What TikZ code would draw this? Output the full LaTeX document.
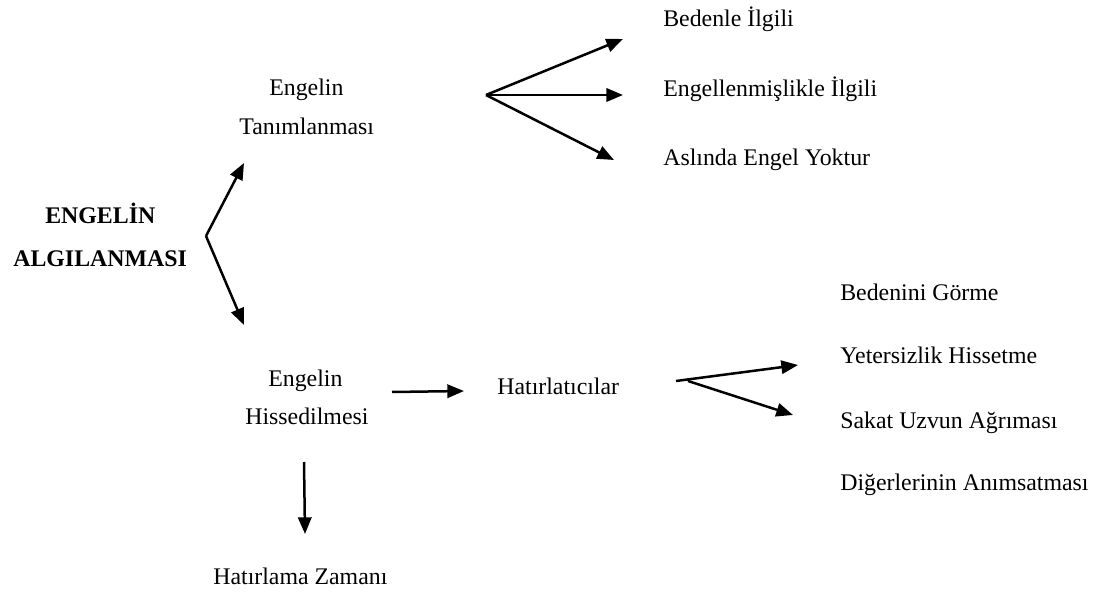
\documentclass[tikz,border=0pt]{standalone}
\usepackage{fontspec}
\setmainfont{Liberation Serif}
\usetikzlibrary{arrows.meta}
\begin{document}
\begin{tikzpicture}[x=0.6pt,y=-0.6pt,
  lbl/.style={font=\fontsize{14.3}{16}\selectfont, inner sep=0pt, anchor=base west},
  lblb/.style={font=\fontsize{14.3}{16}\selectfont\bfseries, inner sep=0pt, anchor=base west},
  arr/.style={line width=1.5pt, -{Triangle[length=10pt,width=8pt]}}]
\useasboundingbox (0,0) rectangle (1096,594);
% texts
\node[lblb] (t1) at (45,224) {ENGELİN};
\node[lblb] (t2) at (13,267) {ALGILANMASI};
\node[lbl] (a1) at (269,96) {Engelin};
\node[lbl] (a2) at (239,135) {Tanımlanması};
\node[lbl] (b1) at (268,386) {Engelin};
\node[lbl] (b2) at (245,424) {Hissedilmesi};
\node[lbl] (h) at (497,394) {Hatırlatıcılar};
\node[lbl] (hz) at (213,584) {Hatırlama Zamanı};
\node[lbl] (r1) at (663,27) {Bedenle İlgili};
\node[lbl] (r2) at (663,97) {Engellenmişlikle İlgili};
\node[lbl] (r3) at (663,166) {Aslında Engel Yoktur};
\node[lbl] (s1) at (840,301) {Bedenini Görme};
\node[lbl] (s2) at (840,363) {Yetersizlik Hissetme};
\node[lbl] (s3) at (840,428) {Sakat Uzvun Ağrıması};
\node[lbl] (s4) at (840,490) {Diğerlerinin Anımsatması};
% arrow coordinates
\coordinate (o1) at (206,236);
\coordinate (e1) at (244,163);
\coordinate (e2) at (244,325);
\coordinate (o2) at (486,95);
\coordinate (f1) at (623,39);
\coordinate (f2) at (623,95);
\coordinate (f3) at (614,160);
\coordinate (o3) at (392,392);
\coordinate (g1) at (464,391);
\coordinate (o4) at (676,381);
\coordinate (o5) at (688,381);
\coordinate (k1) at (798,365);
\coordinate (k2) at (793,415);
\coordinate (o6) at (304,462);
\coordinate (m1) at (305,534);
% arrows
\draw[arr] (o1) -- (e1);
\draw[arr] (o1) -- (e2);
\draw[arr] (o2) -- (f1);
\draw[arr] (o2) -- (f2);
\draw[arr] (o2) -- (f3);
\draw[arr] (o3) -- (g1);
\draw[arr] (o4) -- (k1);
\draw[arr] (o5) -- (k2);
\draw[arr] (o6) -- (m1);
\end{tikzpicture}
\end{document}
